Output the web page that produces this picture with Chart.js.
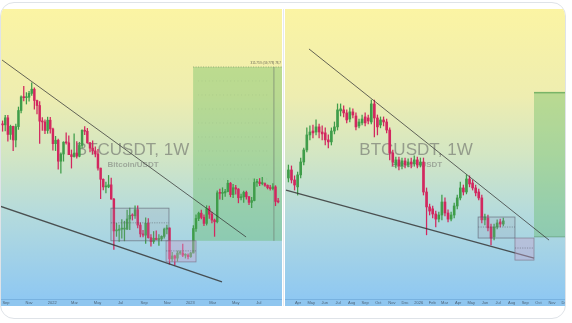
<!DOCTYPE html>
<html><head><meta charset="utf-8">
<script src="https://cdn.jsdelivr.net/npm/chart.js@4.4.1/dist/chart.umd.min.js"></script>
<style>
html,body{margin:0;padding:0;background:#fff;width:572px;height:323px;overflow:hidden}
#frame{position:absolute;left:0;top:2px;width:564px;height:315px;border:1px solid #dfe3e8;border-radius:14px;overflow:hidden;background:#fff}
canvas{position:absolute}
#cl{left:0;top:6px}
#cr{left:284px;top:6px}
#sep{position:absolute;left:282px;top:6px;width:1px;height:297px;background:#e6e9ed}
</style></head>
<body><div id="frame"><div id="sep"></div><canvas id="cl" width="281" height="297"></canvas><canvas id="cr" width="280" height="297"></canvas></div>
<script>
// ---------- LEFT PANEL DATA (weekly, thousands USDT) ----------
const leftStart = '2021-08-23';
const leftOpen  = [49.3,48.9,51.8,45.2,48.3,43.2,48.2,55.0,61.5,61.1,61.3,63.3,65.5,59.7,57.3,50.4,50.1,46.7,50.8,47.3,41.9,43.1,36.3,38.5,42.4,42.2,38.3,37.7,38.8,37.8,41.3,46.8,46.4,42.2,40.4,39.5,38.5,34.3,31.3,29.4,29.4,29.9,26.6,20.5,20.6,20.8,20.8,20.8,22.6,23.3,23.2,24.4,21.5,20.0,19.8,21.8,19.4,18.8,19.3,19.1,19.2,19.6,20.8,21.0,16.3,16.7,16.4,17.1,17.1,16.8,16.8,16.6,17.1,20.9,22.7,23.7,22.9,21.8,24.6,23.5,22.4,22.1,28.0,27.9,28.0,28.3,30.3,27.6,29.2,28.9,26.9,27.1,28.1,27.1,25.9,26.3,30.5,30.6,30.2,30.2,29.8,29.2,29.0,29.4,26.1];
const leftHigh  = [50.5,52.9,52.9,48.8,48.4,49.2,56.6,62.0,67.0,63.7,64.3,69.0,66.3,59.9,59.2,51.9,51.0,52.1,52.0,47.6,44.5,43.5,38.9,42.6,45.8,44.7,39.8,45.4,42.6,42.4,46.9,48.2,47.5,42.4,42.9,40.8,40.0,34.3,31.4,30.6,32.3,31.6,26.8,21.8,21.5,22.5,22.2,24.3,24.7,23.6,25.2,25.2,21.9,20.6,22.8,22.7,19.9,20.4,20.5,19.9,19.7,21.0,21.5,21.0,17.2,16.8,17.4,17.4,18.4,17.0,17.0,17.2,21.4,23.4,23.9,24.3,23.4,25.2,25.1,23.9,22.6,28.5,28.9,29.2,28.8,31.0,30.5,30.0,29.8,29.0,27.7,28.4,28.4,27.2,27.0,31.4,31.3,31.5,31.8,30.4,29.9,29.8,30.2,29.7,26.8];
const leftLow   = [46.4,46.5,42.8,43.4,39.6,40.8,47.1,53.9,59.5,58.0,59.4,62.3,55.6,53.5,42.0,46.7,45.5,45.6,45.7,39.7,39.6,34.0,32.9,36.3,41.7,39.5,34.3,37.5,37.2,37.6,40.5,45.1,42.1,39.2,38.5,37.6,33.7,26.7,28.7,28.0,29.2,26.6,17.6,19.6,18.8,19.3,18.9,20.7,20.7,22.4,22.7,21.0,19.5,19.5,18.5,19.3,18.1,18.5,19.1,18.2,18.9,19.3,20.0,15.6,16.0,15.5,16.0,16.9,16.6,16.4,16.3,16.5,17.1,20.4,22.3,22.6,21.4,21.5,22.7,21.9,19.6,21.9,26.6,26.5,27.2,28.2,27.1,26.9,27.7,25.8,26.4,25.9,26.6,25.4,24.8,26.2,29.5,29.7,29.9,29.5,28.9,28.6,28.7,25.2,25.8];
const leftClose = [48.9,51.8,45.2,48.3,43.2,48.2,55.0,61.5,61.1,61.3,63.3,65.5,59.7,57.3,50.4,50.1,46.7,50.8,47.3,41.9,43.1,36.3,38.5,42.4,42.2,38.3,37.7,38.8,37.8,41.3,46.8,46.4,42.2,40.4,39.5,38.5,34.3,31.3,29.4,29.4,29.9,26.6,20.5,20.6,20.8,20.8,20.8,22.6,23.3,23.2,24.4,21.5,20.0,19.8,21.8,19.4,18.8,19.3,19.1,19.2,19.6,20.8,21.0,16.3,16.7,16.4,17.1,17.1,16.8,16.8,16.6,17.1,20.9,22.7,23.7,22.9,21.8,24.6,23.5,22.4,22.1,28.0,27.9,28.0,28.3,30.3,27.6,29.2,28.9,26.9,27.1,28.1,27.1,25.9,26.3,30.5,30.6,30.2,30.2,29.8,29.2,29.0,29.4,26.1,26.0];
const leftTickDates  = ['2021-09-01','2021-11-01','2022-01-01','2022-03-01','2022-05-01','2022-07-01','2022-09-01','2022-11-01','2023-01-01','2023-03-01','2023-05-01','2023-07-01'];
const leftTickLabels = ['Sep','Nov','2022','Mar','May','Jul','Sep','Nov','2023','Mar','May','Jul'];
// trendlines: [week index, price]
const leftUpperLine = [[-0.2, 83.2], [91.9, 19.5]];
const leftLowerLine = [[-0.97, 25.1], [82.8, 13.5]];
// zones: [fromWeek, toWeek, topPrice, bottomPrice, midPrice]
const leftRangeZone  = [40.9, 62.8, 24.7, 18.9, 21.9];
const leftSweepZone  = [61.7, 73.0, 18.9, 15.9, 17.4];
const leftTargetZone = [71.9, 112, 78.6, 18.9, 102.4];
const leftTargetLabel = '315.75% (59,778) 78,7';

// ---------- RIGHT PANEL DATA ----------
const rightStart = '2025-03-10';
const rightOpen  = [76.4,80.6,75.4,72.0,78.0,85.0,92.1,101.8,104.5,103.8,107.4,103.8,103.2,98.5,97.2,104.5,107.4,119.5,120.3,117.9,113.2,118.7,115.5,108.1,110.3,114.8,114.0,111.0,125.2,114.0,108.8,112.5,111.0,105.2,90.3,83.3,86.2,82.8,85.6,83.3,85.0,83.9,86.2,83.3,85.0,69.6,63.0,62.2,60.1,58.1,59.7,65.1,60.5,58.1,59.7,63.4,66.9,71.5,69.6,75.9,73.9,71.5,69.6,66.9,57.8,58.5,55.1,51.6,55.1,57.0,56.2];
const rightHigh  = [83.3,82.8,77.5,79.5,87.3,93.3,106.7,108.1,108.8,112.5,109.5,108.1,106.7,101.8,106.7,111.0,125.2,125.2,123.5,120.3,121.9,121.1,117.9,113.2,116.3,117.9,116.3,128.5,128.5,116.3,114.8,114.8,113.2,106.7,92.1,87.9,87.9,87.3,87.3,86.8,87.3,88.5,87.9,87.3,87.3,71.5,64.2,63.4,61.3,60.9,68.2,66.9,61.8,60.9,64.6,68.2,74.4,72.9,78.0,77.5,75.4,72.9,71.0,68.2,60.1,59.7,56.2,56.2,57.8,58.1,58.5];
const rightLow   = [74.4,73.9,70.5,68.2,76.4,83.3,90.9,98.5,99.8,101.8,99.8,98.5,95.2,93.3,95.2,102.5,105.2,115.5,114.8,110.3,111.0,114.0,105.2,106.7,108.8,108.1,109.5,109.5,100.4,101.8,106.7,108.1,103.2,86.2,82.8,81.7,80.6,81.2,81.7,82.2,81.7,82.8,81.7,82.2,68.2,52.3,59.7,58.5,55.1,57.0,57.8,59.3,57.0,57.4,58.5,62.2,66.0,68.2,68.7,72.0,70.5,67.8,66.0,56.6,55.9,53.7,48.9,50.6,54.4,55.1,55.5];
const rightClose = [80.6,75.4,72.9,78.0,85.0,92.1,101.8,103.8,103.2,107.4,103.8,102.5,98.5,97.2,104.5,107.4,120.3,121.1,117.9,112.5,118.7,116.3,107.4,111.0,113.2,110.3,111.7,125.2,114.0,107.4,112.5,111.0,105.2,90.3,85.0,86.2,82.8,85.6,83.3,85.0,83.9,86.2,83.3,85.0,69.6,63.0,61.3,60.1,58.1,59.7,65.1,60.5,58.1,59.7,63.4,66.9,71.5,69.6,75.9,73.4,71.5,69.2,66.9,57.8,58.9,54.8,51.2,55.1,56.6,56.2,57.4];
const rightTickDates  = ['2025-04-01','2025-05-01','2025-06-01','2025-07-01','2025-08-01','2025-09-01','2025-10-01','2025-11-01','2025-12-01','2026-01-01','2026-02-01','2026-03-01','2026-04-01','2026-05-01','2026-06-01','2026-07-01','2026-08-01','2026-09-01','2026-10-01','2026-11-01','2026-12-01'];
const rightTickLabels = ['Apr','May','Jun','Jul','Aug','Sep','Oct','Nov','Dec','2026','Feb','Mar','Apr','May','Jun','Jul','Aug','Sep','Oct','Nov','Dec'];
const rightUpperLine = [[6.7, 180.6], [84.9, 50.5]];
const rightLowerLine = [[-0.78, 70.5], [80.0, 44.8]];
const rightRangeZone  = [61.8, 73.8, 58.9, 51.2, 55.1];
const rightSweepZone  = [73.8, 80.0, 51.2, 44.2, 47.9];
const rightTargetZone = [80.0, 95, 135.6, 51.6, null];

// ---------- styles ----------
const UP = '#3f9d4a', DOWN = '#d2275f', TREND = 'rgba(55,55,55,0.85)';
const WEEK = 7 * 864e5;
const weeksFrom = (s, d) => (Date.parse(d) - Date.parse(s)) / WEEK;

const bgPlugin = {
  id: 'bgPlugin',
  beforeDraw(c) {
    const {ctx, chartArea: a, width, height} = c;
    const g = ctx.createLinearGradient(0, a.top, 0, a.bottom);
    g.addColorStop(0, '#fbf4a3');
    g.addColorStop(0.3, '#eeedb0');
    g.addColorStop(0.5, '#d3e6c3');
    g.addColorStop(0.7, '#b5dbdc');
    g.addColorStop(1, '#8fc8f2');
    ctx.save();
    ctx.fillStyle = g; ctx.fillRect(0, 0, width, a.bottom);
    ctx.fillStyle = '#8fc6ef'; ctx.fillRect(0, a.bottom, width, height - a.bottom);
    ctx.fillStyle = '#78b2e0'; ctx.fillRect(0, a.bottom, width, 1);
    ctx.restore();
  }
};

function zoneRect(c, z) {
  const x = c.scales.x, y = c.scales.y;
  const x0 = x.getPixelForValue(z[0]), x1 = x.getPixelForValue(z[1]);
  const y0 = y.getPixelForValue(z[2]), y1 = y.getPixelForValue(z[3]);
  return {x0, x1, y0, y1, mid: z[4] == null ? null : y.getPixelForValue(z[4])};
}

const zonePlugin = {
  id: 'zonePlugin',
  beforeDatasetsDraw(c, args, o) {
    const ctx = c.ctx; ctx.save();
    const t = o.target; const r = zoneRect(c, t);
    ctx.fillStyle = 'rgba(92,184,92,0.36)';
    ctx.fillRect(r.x0, r.y0, r.x1 - r.x0, r.y1 - r.y0);
    if (o.side === 'left') {
      ctx.strokeStyle = 'rgba(80,110,80,0.8)'; ctx.lineWidth = 0.6; ctx.setLineDash([1, 1.5]);
      ctx.beginPath(); ctx.moveTo(r.x0, r.y0); ctx.lineTo(r.x1, r.y0); ctx.stroke();
      const vx = c.scales.x.getPixelForValue(t[4]);
      ctx.setLineDash([]); ctx.strokeStyle = 'rgba(110,120,110,0.8)'; ctx.lineWidth = 0.8;
      ctx.beginPath(); ctx.moveTo(vx, r.y0); ctx.lineTo(vx, r.y1); ctx.stroke();
      ctx.fillStyle = 'rgba(60,60,60,0.8)'; ctx.font = '3px "Liberation Sans"'; ctx.textAlign = 'right';
      ctx.fillText(o.label, c.width - 1, r.y0 - 3);
      ctx.strokeStyle = 'rgba(90,120,90,0.35)'; ctx.lineWidth = 0.5; ctx.setLineDash([0.6, 3]);
      for (let yy = r.y0 + 14; yy < r.y1 - 60; yy += 14) { ctx.beginPath(); ctx.moveTo(r.x0 + 5, yy); ctx.lineTo(vx - 5, yy); ctx.stroke(); }
    } else {
      ctx.fillStyle = 'rgba(70,150,70,0.55)';
      ctx.fillRect(r.x0, r.y0, r.x1 - r.x0, 1.5);
      ctx.fillStyle = 'rgba(70,130,80,0.45)';
      ctx.fillRect(r.x0, r.y1 - 0.5, r.x1 - r.x0, 1);
    }
    ctx.restore();
  },
  afterDatasetsDraw(c, args, o) {
    const ctx = c.ctx; ctx.save();
    const draw = (z, fill, stroke) => {
      const r = zoneRect(c, z);
      ctx.fillStyle = fill; ctx.fillRect(r.x0, r.y0, r.x1 - r.x0, r.y1 - r.y0);
      ctx.strokeStyle = stroke; ctx.lineWidth = 0.8; ctx.setLineDash([]);
      ctx.strokeRect(r.x0, r.y0, r.x1 - r.x0, r.y1 - r.y0);
      ctx.setLineDash([1.2, 1.2]); ctx.strokeStyle = 'rgba(70,70,80,0.7)'; ctx.lineWidth = 0.6;
      ctx.beginPath(); ctx.moveTo(r.x0, r.mid); ctx.lineTo(r.x1, r.mid); ctx.stroke();
    };
    draw(o.range, 'rgba(150,150,175,0.18)', 'rgba(90,90,105,0.7)');
    draw(o.sweep, 'rgba(200,165,205,0.42)', 'rgba(120,105,125,0.7)');
    ctx.restore();
  }
};

const markPlugin = {
  id: 'markPlugin',
  beforeDatasetsDraw(c) {
    const ctx = c.ctx; ctx.save();
    ctx.textAlign = 'center'; ctx.textBaseline = 'alphabetic';
    ctx.fillStyle = 'rgba(95,95,95,0.55)';
    ctx.font = '17px "Liberation Sans"';
    ctx.fillText('BTCUSDT, 1W', c.width * 0.468, 146);
    ctx.font = 'bold 8px "Liberation Sans"';
    ctx.fillStyle = 'rgba(110,110,110,0.5)';
    ctx.fillText('Bitcoin/USDT', c.width * 0.47, 158);
    ctx.restore();
  }
};

function build(id, p) {
  const idx = p.open.map((_, i) => i);
  const cols = idx.map(i => p.close[i] >= p.open[i] ? UP : DOWN);
  const tickVals = p.tickDates.map(d => weeksFrom(p.start, d));
  const line = (pts, w) => ({type: 'line', data: pts.map(q => ({x: q[0], y: q[1]})), borderColor: TREND, borderWidth: w, pointRadius: 0, fill: false, order: 0});
  new Chart(document.getElementById(id), {
    type: 'bar',
    data: {datasets: [
      line(p.upper, 0.9),
      line(p.lower, 1.3),
      {type: 'bar', data: idx.map(i => ({x: i, y: [p.open[i], p.close[i]]})), backgroundColor: cols, barThickness: p.bodyW, grouped: false, minBarLength: 1, order: 1},
      {type: 'bar', data: idx.map(i => ({x: i, y: [p.low[i], p.high[i]]})), backgroundColor: cols, barThickness: 0.6, grouped: false, order: 2}
    ]},
    options: {
      responsive: false, animation: false, devicePixelRatio: 1,
      layout: {padding: 0},
      plugins: {legend: {display: false}, tooltip: {enabled: false},
        zonePlugin: {side: p.side, target: p.target, range: p.range, sweep: p.sweep, label: p.label || ''}},
      scales: {
        x: {type: 'linear', min: p.xmin, max: p.xmax, offset: false,
          grid: {display: false, drawTicks: false}, border: {display: false},
          afterBuildTicks: s => { s.ticks = tickVals.map(v => ({value: v})); },
          afterFit: s => { s.height = 7; s.paddingLeft = 0; s.paddingRight = 0; },
          ticks: {autoSkip: false, maxRotation: 0, padding: 1, color: '#4d6275', font: {size: 4, family: 'Liberation Sans'},
            callback: (v, i) => p.tickLabels[i]}},
        y: {type: 'logarithmic', min: p.ymin, max: p.ymax, display: false}
      }
    },
    plugins: [bgPlugin, zonePlugin, markPlugin]
  });
}

build('cl', {side: 'left', start: leftStart, open: leftOpen, high: leftHigh, low: leftLow, close: leftClose,
  tickDates: leftTickDates, tickLabels: leftTickLabels, upper: leftUpperLine, lower: leftLowerLine,
  range: leftRangeZone, sweep: leftSweepZone, target: leftTargetZone, label: leftTargetLabel,
  xmin: -0.59, xmax: 105.45, ymin: 11.73, ymax: 126.4, bodyW: 1.8});
build('cr', {side: 'right', start: rightStart, open: rightOpen, high: rightHigh, low: rightLow, close: rightClose,
  tickDates: rightTickDates, tickLabels: rightTickLabels, upper: rightUpperLine, lower: rightLowerLine,
  range: rightRangeZone, sweep: rightSweepZone, target: rightTargetZone,
  xmin: -1.11, xmax: 90.1, ymin: 34.1, ymax: 235.7, bodyW: 2.0});
</script></body></html>
